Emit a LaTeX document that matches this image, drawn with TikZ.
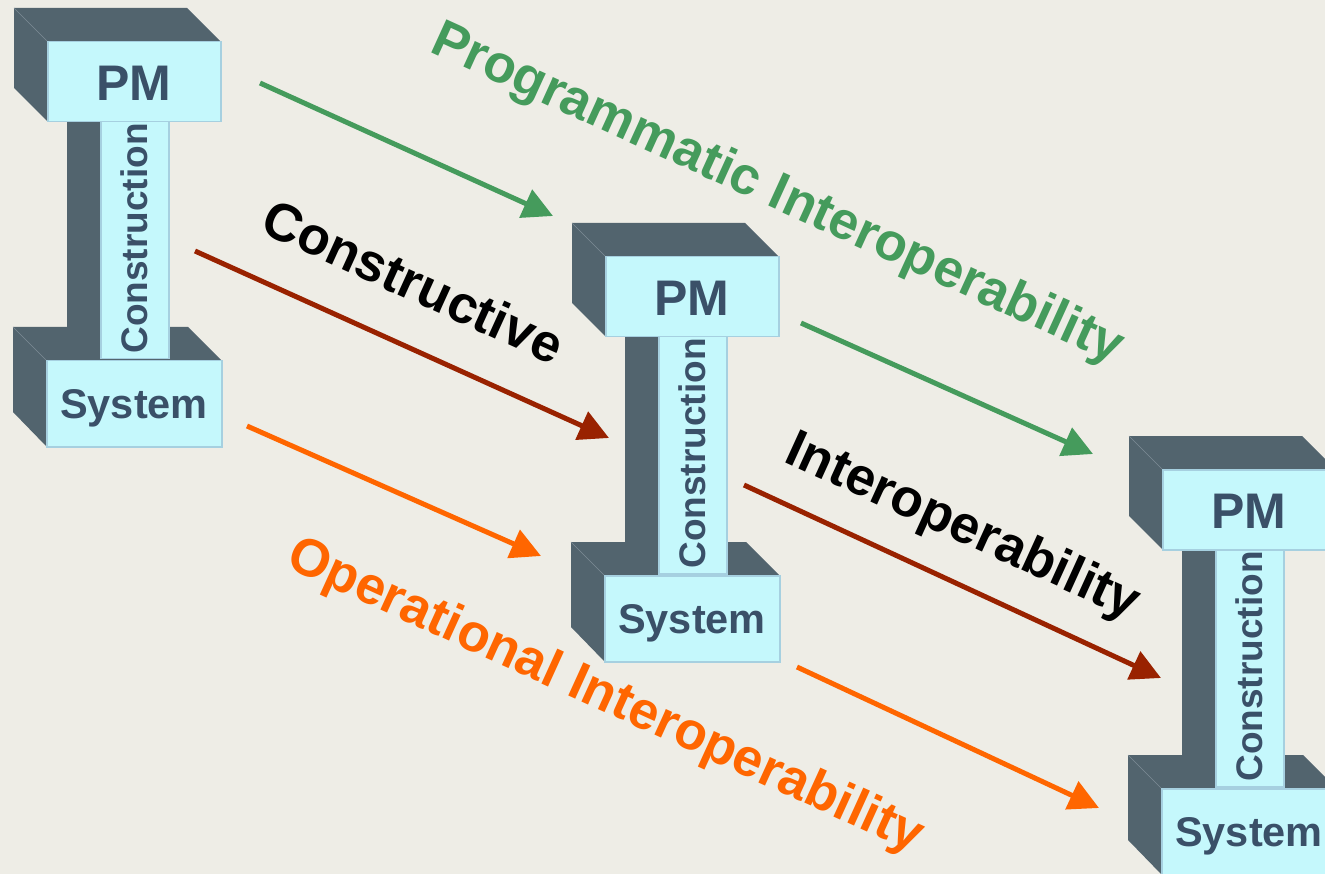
\documentclass[tikz,border=0pt]{standalone}
\usepackage{fontspec}
\setmainfont{Liberation Sans}
\usetikzlibrary{arrows.meta}
\definecolor{bg}{RGB}{238,237,230}
\definecolor{slate}{RGB}{82,100,110}
\definecolor{edgeln}{RGB}{125,140,150}
\definecolor{face}{RGB}{197,248,252}
\definecolor{facebd}{RGB}{166,208,224}
\definecolor{lbl}{RGB}{58,80,104}
\definecolor{pgreen}{RGB}{69,155,92}
\definecolor{cred}{RGB}{153,34,0}
\definecolor{oorange}{RGB}{255,102,0}
\tikzset{
  facebox/.style={fill=face, draw=facebd, line width=1.5pt, inner sep=0pt, anchor=north west},
  beamtext/.style={text=lbl, inner sep=0pt},
  flow/.style={line width=5pt, -{Triangle[length=30pt,width=30pt]}},
  biglabel/.style={font=\bfseries\fontsize{53}{60}\selectfont, inner sep=0pt, anchor=base west, rotate=-24.5},
}
\newcommand\ibeam[2]{%
  \begin{scope}[shift={(#2)}]
    \fill[slate] (0,0) -- (173,0) -- (206,33) -- (206,113) -- (33,113) -- (0,80) -- cycle;
    \fill[slate] (53,100) rectangle (86,330);
    \fill[slate] (-1,319) -- (174,319) -- (207,352) -- (207,438) -- (32,438) -- (-1,404) -- cycle;
    \draw[edgeln, line width=0.6pt] (0,0) -- (33,33);
    \draw[edgeln, line width=0.6pt] (-1,319) -- (32,352);
    \node[facebox, minimum width=175pt, minimum height=86pt] (#1bot) at (32,352) {};
    \node[facebox, minimum width=173pt, minimum height=80pt] (#1top) at (33,33) {};
    \node[facebox, minimum width=68pt, minimum height=237pt] (#1web) at (86,113) {};
    \node[beamtext, font=\bfseries\fontsize{50}{60}\selectfont] (#1pm) at (120,75.5) {PM};
    \node[beamtext, font=\bfseries\fontsize{41.5}{50}\selectfont, anchor=base] (#1sys) at (120,410) {System};
    \node[beamtext, font=\bfseries\fontsize{37}{44}\selectfont, rotate=90] (#1con) at (120,230.5) {Construction};
  \end{scope}}
\begin{document}
\begin{tikzpicture}[x=1pt,y=-1pt]
  \useasboundingbox (0,0) rectangle (1325,874);
  \clip (0,0) rectangle (1325,874);
  \fill[bg] (0,0) rectangle (1325,874);
  \ibeam{a}{14,8}
  \ibeam{b}{572,223}
  \ibeam{c}{1129,436}
  % arrow end points
  \coordinate (g1s) at (260,83);  \coordinate (g1e) at (553,216);
  \coordinate (r1s) at (195,251); \coordinate (r1e) at (609,438);
  \coordinate (o1s) at (247,426); \coordinate (o1e) at (541,556);
  \coordinate (g2s) at (801,323); \coordinate (g2e) at (1093,454);
  \coordinate (r2s) at (744,485); \coordinate (r2e) at (1161,678);
  \coordinate (o2s) at (797,667); \coordinate (o2e) at (1099,808);
  \draw[flow, pgreen] (g1s) -- (g1e);
  \draw[flow, cred] (r1s) -- (r1e);
  \draw[flow, oorange] (o1s) -- (o1e);
  \draw[flow, pgreen] (g2s) -- (g2e);
  \draw[flow, cred] (r2s) -- (r2e);
  \draw[flow, oorange] (o2s) -- (o2e);
  % labels
  \node[biglabel, text=pgreen] (prog) at (428,51) {Programmatic Interoperability};
  \node[biglabel, text=black] (cons) at (258,231) {Constructive};
  \node[biglabel, text=black] (inter) at (782,461) {Interoperability};
  \node[biglabel, text=oorange] (oper) at (284,566) {Operational Interoperability};
\end{tikzpicture}
\end{document}
